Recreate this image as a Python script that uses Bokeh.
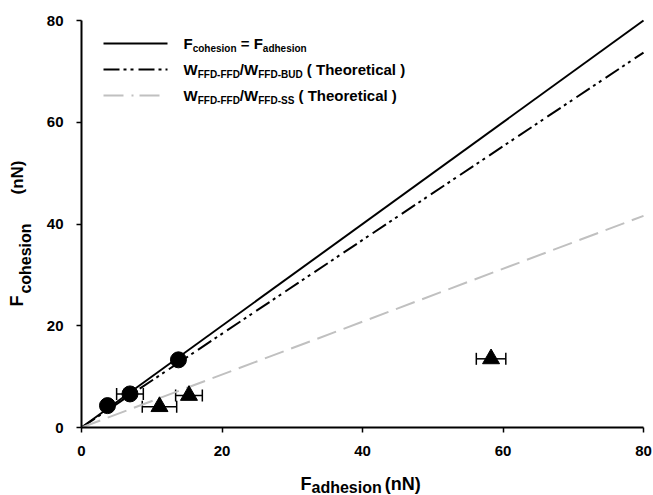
import math
from bokeh.plotting import figure
from bokeh.models import Range1d, Label, Whisker, ColumnDataSource, TeeHead, FixedTicker
from bokeh.embed import file_html
from bokeh.resources import INLINE

# ---------------- data ----------------
x_ticks = [0, 20, 40, 60, 80]
y_ticks = [0, 20, 40, 60, 80]

circle_x = [3.7, 6.9, 13.8]
circle_y = [4.3, 6.6, 13.3]
circle_xerr = [0.0, 1.9, 0.0]

tri_x = [11.1, 15.3, 58.3]
tri_y = [4.1, 6.3, 13.5]
tri_xerr = [2.45, 1.9, 2.1]

line_x = [0, 80]
equal_y = [0, 80]      # F_cohesion = F_adhesion
bud_y = [0, 73.7]      # W_FFD-FFD / W_FFD-BUD (theoretical)
ss_y = [0, 41.6]       # W_FFD-FFD / W_FFD-SS (theoretical)

# ---------------- layout ----------------
W, H = 653, 495
L, R, T, B = 81, 643, 20, 427        # pixel position of the 0..80 data box
SX = (R - L) / 80.0
SY = (B - T) / 80.0
FONT = "Liberation Sans"
GRAY = "#c0c0c0"
MID = 0.31                            # em-box middle above the baseline


def dx(px):
    return (px - L) / SX


def dy(py):
    return (B - py) / SY


# the frame covers the whole canvas; the axes sit at data 0 and span 0..80
p = figure(width=W, height=H,
           x_range=Range1d(dx(0), dx(W)), y_range=Range1d(dy(H), dy(0)),
           output_backend="svg", toolbar_location=None,
           min_border_left=0, min_border_right=0,
           min_border_top=0, min_border_bottom=0)
p.xgrid.visible = False
p.ygrid.visible = False
p.outline_line_color = None
p.background_fill_color = "white"
p.border_fill_color = "white"

for ax, ticks in ((p.xaxis, x_ticks), (p.yaxis, y_ticks)):
    ax.ticker = FixedTicker(ticks=ticks)
    ax.fixed_location = 0
    ax.bounds = (0, 80)
    ax.axis_line_width = 2
    ax.axis_line_color = "black"
    ax.major_tick_line_width = 1.5
    ax.major_tick_line_color = "black"
    ax.major_tick_out = 5
    ax.major_tick_in = 0
    ax.minor_tick_line_color = None
    ax.major_label_text_font = FONT
    ax.major_label_text_font_style = "bold"
    ax.major_label_text_font_size = "15px"
    ax.major_label_text_color = "black"
p.xaxis.major_label_standoff = 13
p.yaxis.major_label_standoff = 13

# ---------------- reference lines ----------------
p.line(line_x, equal_y, line_color="black", line_width=2)
p.line(line_x, bud_y, line_color="black", line_width=2, line_dash="16 4 3 4 3 5")
p.line(line_x, ss_y, line_color=GRAY, line_width=2, line_dash="20 8")

# ---------------- error bars ----------------
def whisker_source(xs, ys, errs):
    d = dict(x=[], y=[], lo=[], hi=[])
    for x, y, e in zip(xs, ys, errs):
        if e > 0:
            d["x"].append(x)
            d["y"].append(y)
            d["lo"].append(x - e)
            d["hi"].append(x + e)
    return ColumnDataSource(d)


for xs, ys, es in ((circle_x, circle_y, circle_xerr), (tri_x, tri_y, tri_xerr)):
    src = whisker_source(xs, ys, es)
    wk = Whisker(source=src, base="y", lower="lo", upper="hi", dimension="width",
                 line_color="black", line_width=1.5, level="underlay",
                 lower_head=TeeHead(size=12, line_color="black", line_width=1.5),
                 upper_head=TeeHead(size=12, line_color="black", line_width=1.5))
    p.add_layout(wk)

p.scatter(circle_x, circle_y, marker="circle", size=16, fill_color="black", line_color="black")
p.scatter(tri_x, tri_y, marker="triangle", size=17, fill_color="black", line_color="black")

# ---------------- text helpers ----------------
ARIAL_BOLD = {'F': 611, 'W': 944, ' ': 278, '=': 584, '(': 333, ')': 333, '/': 278,
              '-': 333, 'a': 556, 'c': 556, 'd': 611, 'e': 556, 'h': 611, 'i': 278,
              'l': 278, 'n': 611, 'o': 611, 'r': 389, 's': 556, 't': 333, 'T': 611,
              'B': 722, 'D': 722, 'S': 667, 'U': 722, 'N': 722}


def text_width(s, size):
    return sum(ARIAL_BOLD.get(c, 556) for c in s) * size / 1000.0


def add_piece(text, x_px, y_px, size, angle=0.0, align="left"):
    """y_px / x_px give the em-box middle of the text (text_baseline='middle')"""
    p.add_layout(Label(x=dx(x_px), y=dy(y_px), text=text, angle=angle,
                       text_font=FONT, text_font_style="bold",
                       text_font_size=f"{size}px", text_color="black",
                       text_align=align, text_baseline="middle"))


def add_run(pieces, x0, base):
    """pieces: (text, size, baseline shift px, gap before px), left to right;
    base is the alphabetic baseline of the main text in pixels"""
    x = x0
    for text, size, shift, gap in pieces:
        x += gap
        add_piece(text, x, base + shift - MID * size, size)
        x += text_width(text, size)


# ---------------- legend ----------------
leg_x0, leg_x1 = 103, 167
leg_rows = [43, 69, 95]
leg_styles = [dict(line_color="black"),
              dict(line_color="black", line_dash="16 4 3 4 3 5"),
              dict(line_color=GRAY, line_dash="20 8 2 6")]
for row, st in zip(leg_rows, leg_styles):
    p.line([dx(leg_x0), dx(leg_x1)], [dy(row), dy(row)], line_width=2, **st)

MAIN, SUB, SH = 15, 10, 3
SP = text_width(" ", MAIN)
add_run([("F", MAIN, 0, 0), ("cohesion", SUB, SH, 0), ("=", MAIN, 0, SP),
         ("F", MAIN, 0, SP), ("adhesion", SUB, SH, 0)], 183, 48)
add_run([("W", MAIN, 0, 0), ("FFD-FFD", SUB, SH, 0), ("/W", MAIN, 0, 0),
         ("FFD-BUD", SUB, SH, 0), ("( Theoretical )", MAIN, 0, SP)], 183, 74)
add_run([("W", MAIN, 0, 0), ("FFD-FFD", SUB, SH, 0), ("/W", MAIN, 0, 0),
         ("FFD-SS", SUB, SH, 0), ("( Theoretical )", MAIN, 0, SP)], 183, 100)

# ---------------- axis titles ----------------
add_run([("F", 18, 0, 0), ("adhesion", 16, 2.5, 0), ("(nN)", 18, 0, 3)], 300, 489)

# y title: pieces centred on their own midpoints, rotated 90 degrees
ang = math.pi / 2
add_piece("F", 16.5, 300.5, 18, ang, "center")
add_piece("cohesion", 24.5, 258, 16, ang, "center")
add_piece("(nN)", 17, 177, 17, ang, "center")

open("out.html", "w").write(file_html(p, INLINE))
